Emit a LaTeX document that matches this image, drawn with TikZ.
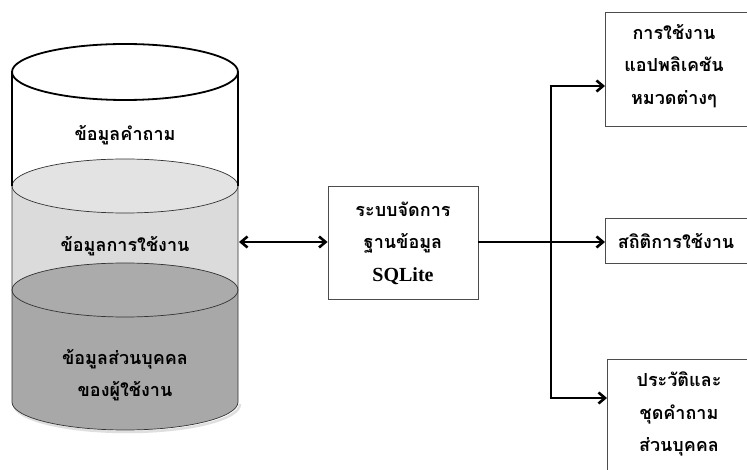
\documentclass[tikz,border=0pt]{standalone}
\usepackage{fontspec}
\newfontfamily\thaifont[Script=Thai]{Loma}
\newfontfamily\latinserif{Liberation Serif}
\usetikzlibrary{arrows.meta}

\begin{document}
\begin{tikzpicture}[x=1pt,y=-1pt,
  conn/.style={line width=2.6pt, line join=miter,
    -{Straight Barb[length=6.5pt,width=11pt,line width=2.6pt]}},
  both/.style={line width=2.6pt,
    {Straight Barb[length=6.5pt,width=11pt,line width=2.6pt]}-{Straight Barb[length=6.5pt,width=11pt,line width=2.6pt]}},
  boxed/.style={draw=black!70, line width=0.9pt, fill=white, inner sep=0pt},
  thaitext/.style={font=\thaifont\bfseries\fontsize{18}{32.5}\selectfont, align=center, inner sep=0pt},
  rim/.style={line width=0.7pt, draw=black!80},
]
\clip (0,0) rectangle (747,470);
\fill[white] (0,0) rectangle (747,470);

% ---- cylinder: three stacked layers ----
% soft shadow under the base
\draw[gray!25, line width=2.5pt] (14,404) arc[start angle=180, end angle=360, x radius=113pt, y radius=28pt];
% light middle layer
\fill[gray!28] (12,186) arc[start angle=180, end angle=0, x radius=113pt, y radius=27pt]
  -- (238,290) arc[start angle=0, end angle=-180, x radius=113pt, y radius=27pt] -- cycle;
\draw[rim, fill=gray!22] (125,186) ellipse[x radius=113pt, y radius=27pt];
% dark bottom layer
\fill[gray!68] (12,290) arc[start angle=180, end angle=0, x radius=113pt, y radius=27pt]
  -- (238,402) arc[start angle=0, end angle=-180, x radius=113pt, y radius=28pt] -- cycle;
\draw[rim, fill=gray!66] (125,290) ellipse[x radius=113pt, y radius=27pt];
% outline of the lower part
\draw[rim] (12,186) -- (12,402) arc[start angle=180, end angle=360, x radius=113pt, y radius=28pt] -- (238,186);
% open top with bold rim
\draw[line width=1.8pt] (125,72) ellipse[x radius=113pt, y radius=28pt];
\draw[line width=1.8pt] (12,72) -- (12,186);
\draw[line width=1.8pt] (238,72) -- (238,186);

\node[thaitext] (qdata) at (125,135) {ข้อมูลคำถาม};
\node[thaitext] (usedata) at (125,246) {ข้อมูลการใช้งาน};
\node[thaitext] (persdata) at (125,375) {ข้อมูลส่วนบุคคล\\ของผู้ใช้งาน};

% ---- database manager ----
\node[boxed, minimum width=150pt, minimum height=113pt] (dbms) at (403,242.5) {};
\node[thaitext] (dbmstext) at (403,243) {ระบบจัดการ\\ฐานข้อมูล\\{\latinserif\bfseries\fontsize{20}{32.5}\selectfont SQLite}};

% ---- outputs ----
\node[boxed, minimum width=150pt, minimum height=114pt, anchor=north west] (appbox) at (605,12) {};
\node[thaitext] (apptext) at (674,66) {การใช้งาน\\แอปพลิเคชัน\\หมวดต่างๆ};

\node[boxed, minimum width=150pt, minimum height=45pt, anchor=north west] (statbox) at (605,218) {};
\node[thaitext] (stattext) at (676,241) {สถิติการใช้งาน};

\node[boxed, minimum width=150pt, minimum height=130pt, anchor=north west] (histbox) at (607,359) {};
\node[thaitext] (histtext) at (679,414) {ประวัติและ\\ชุดคำถาม\\ส่วนบุคคล};

% ---- connectors ----
\coordinate (cylR) at (239,242);
\coordinate (junc) at (551,242);
\coordinate (topin) at (551,86);
\coordinate (botin) at (551,398);

\draw[both] (cylR) -- (dbms.west |- cylR);
\draw[line width=2.6pt] (dbms.east |- junc) -- (junc);
\draw[line width=2.6pt] (topin) -- (botin);
\draw[conn] (junc) -- (junc -| statbox.west);
\draw[conn] ([xshift=-1.3pt]topin) -- (topin -| appbox.west);
\draw[conn] ([xshift=-1.3pt]botin) -- (botin -| histbox.west);
\end{tikzpicture}
\end{document}
